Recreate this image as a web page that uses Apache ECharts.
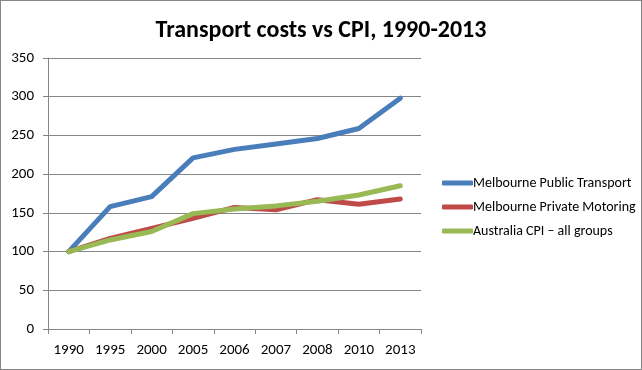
<!DOCTYPE html>
<html><head><meta charset="utf-8">
<script src="https://cdn.jsdelivr.net/npm/echarts@6/dist/echarts.min.js"></script>
<style>html,body{margin:0;padding:0;background:#fff}#c{width:642px;height:370px;box-sizing:border-box;border:1px solid #868686}</style>
</head><body><div id="c"></div>
<script>
var categories = ['1990','1995','2000','2005','2006','2007','2008','2010','2013'];
var publicTransport = [100,158,171,221,232,239,246,259,298];
var privateMotoring = [100,117,130,143,157,154,167,161,168];
var cpiAll = [100,115,126,149,155,159,165,173,185];
var seriesNames = ['Melbourne Public Transport','Melbourne Private Motoring','Australia CPI \u2013 all groups'];
var colors = ['#4a7ebb','#be4b48','#98b954'];
var chart = echarts.init(document.getElementById('c'));
var font = 'Carlito, "Open Sans", "Liberation Sans", sans-serif';
function mk(name, data, color){return {name:name,type:'line',data:data,symbol:'none',smooth:false,lineStyle:{width:5,color:color,cap:'round',join:'round'},itemStyle:{color:color}};}
chart.setOption({
  animation:false,
  title:{text:'Transport costs vs CPI, 1990-2013',left:'center',top:13,textStyle:{fontFamily:font,fontSize:24,fontWeight:'bold',color:'#000'}},
  grid:{left:47,right:220,top:57,bottom:40},
  legend:{orient:'vertical',left:441,top:175,padding:0,itemWidth:31,itemHeight:5,itemGap:10,icon:'roundRect',textStyle:{fontFamily:font,fontSize:14,lineHeight:14,color:'#000',padding:[0,0,0,-5]},data:seriesNames},
  xAxis:{type:'category',data:categories,boundaryGap:true,axisLine:{lineStyle:{color:'#868686'}},axisTick:{show:true,length:5,lineStyle:{color:'#868686'}},axisLabel:{color:'#000',fontFamily:font,fontSize:15,margin:14}},
  yAxis:{type:'value',min:0,max:350,interval:50,axisLine:{show:true,lineStyle:{color:'#868686'}},axisTick:{show:true,length:5,lineStyle:{color:'#868686'}},splitLine:{lineStyle:{color:'#868686'}},axisLabel:{color:'#000',fontFamily:font,fontSize:15,margin:14}},
  series:[mk(seriesNames[0],publicTransport,colors[0]),mk(seriesNames[1],privateMotoring,colors[1]),mk(seriesNames[2],cpiAll,colors[2])]
});
</script></body></html>
